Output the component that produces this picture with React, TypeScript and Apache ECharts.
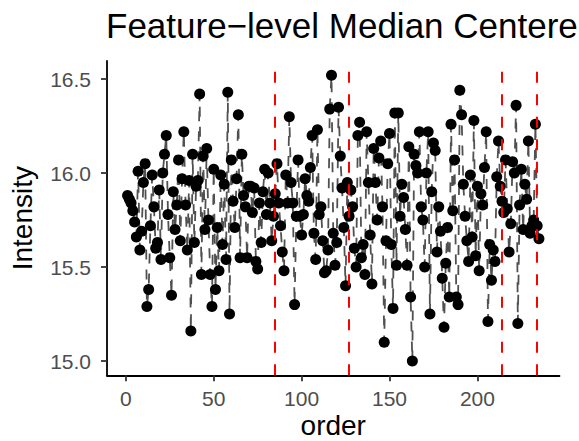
import React, { useEffect, useRef } from "react";
import * as echarts from "echarts";

const TITLE = "Feature\u2212level Median Centered";
const X_NAME = "order";
const Y_NAME = "Intensity";

const xTicks = [0, 50, 100, 150, 200];
const yTicks = [15.0, 15.5, 16.0, 16.5];

// batch boundaries (red dashed vertical lines)
const batchBreaks = [84.6, 126.7, 213.8, 233.9];

// intensity values, in run order 1..235
const intensity = [
  15.88, 15.86, 15.84, 15.80, 15.74, 15.66, 16.01, 15.59, 15.69, 15.95,
  16.05, 15.29, 15.38, 15.72, 15.99, 15.82, 15.60, 15.63, 15.91, 15.54,
  16.00, 16.10, 16.20, 15.78, 15.55, 15.35, 15.90, 15.70, 15.83, 16.07,
  15.64, 15.97, 16.22, 15.83, 15.59, 15.96, 15.16, 16.10, 15.63, 15.93,
  15.96, 16.42, 15.46, 16.09, 15.70, 16.13, 15.75, 15.46, 15.29, 16.02,
  15.38, 15.71, 15.48, 15.99, 15.62, 15.94, 15.54, 16.43, 15.25, 16.07,
  15.85, 15.71, 15.97, 16.31, 15.55, 16.10, 15.88, 15.82, 15.55, 15.93,
  15.93, 15.79, 15.92, 15.53, 15.49, 15.84, 15.63, 15.90, 16.02, 15.78,
  16.00, 15.84, 15.64, 15.77, 15.89, 16.05, 15.84, 15.72, 15.58, 15.48,
  15.99, 15.84, 16.30, 15.95, 15.84, 15.30, 15.77, 16.07, 15.77, 15.67,
  15.78, 15.97, 15.88, 15.85, 16.03, 16.20, 15.68, 15.54, 16.23, 15.78,
  15.82, 15.64, 15.47, 15.48, 15.59, 16.34, 16.52, 15.68, 15.51, 15.63,
  16.35, 16.09, 15.92, 15.71, 15.40, 15.95, 15.77, 15.91, 15.82, 15.60,
  15.50, 16.20, 16.27, 15.55, 15.62, 15.46, 16.22, 15.95, 15.67, 15.41,
  16.13, 15.95, 15.75, 16.08, 16.17, 15.82, 15.10, 15.64, 16.05, 16.21,
  15.62, 15.28, 16.32, 15.51, 16.32, 15.77, 15.94, 15.87, 15.70, 15.51,
  16.14, 15.34, 15.00, 16.10, 16.04, 16.00, 16.22, 15.82, 15.75, 15.50,
  16.00, 16.22, 15.25, 15.90, 16.16, 16.12, 15.58, 15.82, 15.69, 15.44,
  15.18, 15.52, 15.71, 15.34, 16.26, 15.80, 16.07, 15.34, 15.30, 16.44,
  16.31, 15.94, 15.77, 15.64, 15.53, 15.99, 15.66, 16.28, 15.56, 15.93,
  15.48, 15.89, 15.83, 16.03, 16.22, 15.21, 15.62, 15.43, 15.59, 15.53,
  15.98, 16.17, 15.93, 15.85, 15.79, 16.07, 15.81, 15.58, 15.73, 16.06,
  16.00, 16.36, 15.20, 15.83, 16.02, 15.70, 15.94, 15.86, 16.17, 15.68,
  15.72, 15.75, 16.26, 15.72, 15.65,
];

const FONT = "'Liberation Sans', Arial, Helvetica, sans-serif";

export default function App() {
  const ref = useRef<HTMLDivElement>(null);

  useEffect(() => {
    document.body.style.margin = "0";
    if (!ref.current) return;
    const chart = echarts.init(ref.current, undefined, { renderer: "svg" });

    const data = intensity.map((v, i) => [i + 1, v]);
    const n = data.length;
    const xPad = (n - 1) * 0.05;
    const yMin = Math.min(...intensity);
    const yMax = Math.max(...intensity);
    const yPad = (yMax - yMin) * 0.05;

    const left = 107;
    const right = 19.5;
    const top = 61;
    const bottom = 65.7;
    const plotMidX = left + (579 - left - right) / 2;
    const plotMidY = top + (441 - top - bottom) / 2;

    chart.setOption({
      animation: false,
      grid: { left, right, top, bottom, containLabel: false },
      xAxis: {
        type: "value",
        min: 1 - xPad,
        max: n + xPad,
        axisLine: { show: true, onZero: false, lineStyle: { color: "#000", width: 1.8 } },
        axisTick: {
          show: true,
          length: 6,
          customValues: xTicks,
          lineStyle: { color: "#333", width: 1.8 },
        },
        axisLabel: {
          customValues: xTicks,
          fontSize: 21,
          color: "#4d4d4d",
          margin: 13,
          fontFamily: FONT,
        },
        splitLine: { show: false },
      },
      yAxis: {
        type: "value",
        min: yMin - yPad,
        max: yMax + yPad,
        axisLine: { show: true, onZero: false, lineStyle: { color: "#000", width: 1.8 } },
        axisTick: {
          show: true,
          length: 6,
          customValues: yTicks,
          lineStyle: { color: "#333", width: 1.8 },
        },
        axisLabel: {
          customValues: yTicks,
          fontSize: 21,
          color: "#4d4d4d",
          margin: 16,
          fontFamily: FONT,
          formatter: (v: number) => v.toFixed(1),
        },
        splitLine: { show: false },
      },
      series: [
        {
          type: "line",
          data,
          symbol: "circle",
          symbolSize: 11,
          showSymbol: true,
          itemStyle: { color: "#000" },
          lineStyle: { color: "#505050", width: 1.8, type: [10, 10] },
          z: 2,
        },
        {
          type: "line",
          data,
          symbol: "none",
          silent: true,
          lineStyle: { opacity: 0 },
          z: 5,
          markLine: {
            silent: true,
            symbol: ["none", "none"],
            label: { show: false },
            lineStyle: { color: "#ff0000", width: 2, type: [11, 11.5] },
            data: batchBreaks.map((b) => ({ xAxis: b })),
          },
        },
      ],
      graphic: [
        {
          type: "text",
          x: 106,
          y: 25.6,
          style: {
            text: TITLE,
            fill: "#000",
            font: `35px ${FONT}`,
            align: "left",
            verticalAlign: "middle",
          },
        },
        {
          type: "text",
          x: 22.6,
          y: plotMidY,
          rotation: Math.PI / 2,
          style: {
            text: Y_NAME,
            fill: "#000",
            font: `28px ${FONT}`,
            align: "center",
            verticalAlign: "middle",
          },
        },
        {
          type: "text",
          x: plotMidX,
          y: 425.5,
          style: {
            text: X_NAME,
            fill: "#000",
            font: `28px ${FONT}`,
            align: "center",
            verticalAlign: "middle",
          },
        },
      ],
    });

    return () => chart.dispose();
  }, []);

  return (
    <div
      ref={ref}
      style={{ position: "absolute", left: 0, top: 0, width: 579, height: 441 }}
    />
  );
}
